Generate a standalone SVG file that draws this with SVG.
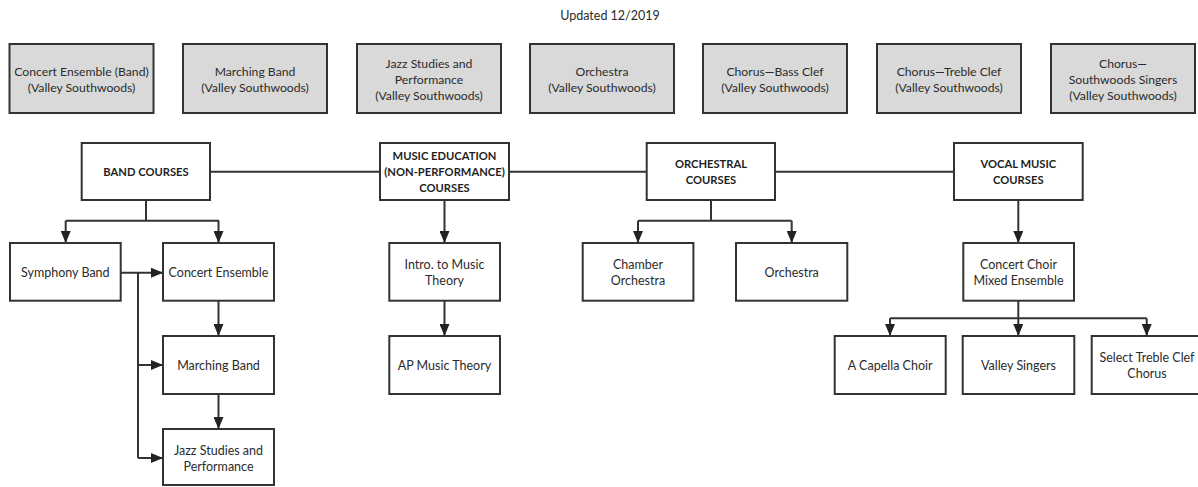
<svg xmlns="http://www.w3.org/2000/svg" width="1198" height="487" viewBox="0 0 1198 487">
<style>
  .top rect{fill:#d9d9d9;stroke:#333;stroke-width:2}
  .top text{font-size:12.2px}
  .n rect{fill:#fff;stroke:#333;stroke-width:2}
  text{font-family:Lato,"Liberation Sans",sans-serif;font-size:12.5px;fill:#2b2b2b;text-anchor:middle}
  .h text{font-weight:bold;font-size:11.2px;fill:#1e1e1e}
  #connectors path{fill:none;stroke:#333;stroke-width:2}
</style>
<defs>
  <marker id="ar" viewBox="0 0 12 10" refX="12" refY="5" markerWidth="12" markerHeight="10" markerUnits="userSpaceOnUse" orient="auto">
    <path d="M0,0 L12,5 L0,10 Z" fill="#222"/>
  </marker>
</defs>
<rect width="1198" height="487" fill="#fff"/>
<text x="610" y="20">Updated 12/2019</text>

<g id="t1" class="top"><rect x="9.5" y="44" width="144" height="69"/><text x="81.5" y="75.5">Concert Ensemble (Band)</text><text x="81.5" y="91.5">(Valley Southwoods)</text></g>
<g id="t2" class="top"><rect x="183" y="44" width="144" height="69"/><text x="255" y="75.5">Marching Band</text><text x="255" y="91.5">(Valley Southwoods)</text></g>
<g id="t3" class="top"><rect x="357" y="44" width="144" height="69"/><text x="429" y="67.5">Jazz Studies and</text><text x="429" y="83.5">Performance</text><text x="429" y="99.5">(Valley Southwoods)</text></g>
<g id="t4" class="top"><rect x="530" y="44" width="144" height="69"/><text x="602" y="75.5">Orchestra</text><text x="602" y="91.5">(Valley Southwoods)</text></g>
<g id="t5" class="top"><rect x="703" y="44" width="144" height="69"/><text x="775" y="75.5">Chorus—Bass Clef</text><text x="775" y="91.5">(Valley Southwoods)</text></g>
<g id="t6" class="top"><rect x="877" y="44" width="144" height="69"/><text x="949" y="75.5">Chorus—Treble Clef</text><text x="949" y="91.5">(Valley Southwoods)</text></g>
<g id="t7" class="top"><rect x="1051" y="44" width="144" height="69"/><text x="1123" y="67.5">Chorus—</text><text x="1123" y="83.5">Southwoods Singers</text><text x="1123" y="99.5">(Valley Southwoods)</text></g>

<g id="connectors">
  <path d="M210,171.7 H380 M509,171.7 H646.7 M775,171.7 H954"/>
  <path d="M146,200 V220.7 M65.7,220.7 H219"/>
  <path d="M65.7,220.7 V243" marker-end="url(#ar)"/>
  <path d="M218.5,220.7 V243" marker-end="url(#ar)"/>
  <path d="M120.7,272.7 H163" marker-end="url(#ar)"/>
  <path d="M138,272.7 V458 M138,365 H163" marker-end="url(#ar)"/>
  <path d="M138,458 H163" marker-end="url(#ar)"/>
  <path d="M218.5,300.7 V336" marker-end="url(#ar)"/>
  <path d="M218.5,394 V429" marker-end="url(#ar)"/>
  <path d="M444.5,200 V243" marker-end="url(#ar)"/>
  <path d="M444.5,300.7 V336" marker-end="url(#ar)"/>
  <path d="M711,200 V220.7 M638,220.7 H791.7"/>
  <path d="M638,220.7 V243" marker-end="url(#ar)"/>
  <path d="M791.7,220.7 V243" marker-end="url(#ar)"/>
  <path d="M1018.3,200 V243" marker-end="url(#ar)"/>
  <path d="M1018.3,300.7 V336" marker-end="url(#ar)"/>
  <path d="M890,318.3 H1146.7"/>
  <path d="M890,318.3 V336" marker-end="url(#ar)"/>
  <path d="M1146.7,318.3 V336" marker-end="url(#ar)"/>
</g>

<g id="band" class="n h"><rect x="81.7" y="143" width="128.3" height="57"/><text x="146" y="175.5">BAND COURSES</text></g>
<g id="musiced" class="n h"><rect x="380" y="143" width="129" height="57"/><text x="444.5" y="160">MUSIC EDUCATION</text><text x="444.5" y="176">(NON-PERFORMANCE)</text><text x="444.5" y="192">COURSES</text></g>
<g id="orch" class="n h"><rect x="646.7" y="143" width="128.3" height="57"/><text x="711" y="168">ORCHESTRAL</text><text x="711" y="184">COURSES</text></g>
<g id="vocal" class="n h"><rect x="954" y="143" width="128.7" height="57"/><text x="1018.3" y="168">VOCAL MUSIC</text><text x="1018.3" y="184">COURSES</text></g>

<g id="symphony" class="n"><rect x="10" y="243" width="110.7" height="57.7"/><text x="65.3" y="276.5">Symphony Band</text></g>
<g id="concert" class="n"><rect x="163" y="243" width="111" height="57.7"/><text x="218.5" y="276.5">Concert Ensemble</text></g>
<g id="marching" class="n"><rect x="163" y="336" width="111" height="58"/><text x="218.5" y="369.5">Marching Band</text></g>
<g id="jazz" class="n"><rect x="163" y="429" width="111" height="56"/><text x="218.5" y="454.5">Jazz Studies and</text><text x="218.5" y="470.5">Performance</text></g>
<g id="intro" class="n"><rect x="389.3" y="243" width="110.7" height="57.7"/><text x="444.5" y="269">Intro. to Music</text><text x="444.5" y="285">Theory</text></g>
<g id="ap" class="n"><rect x="389.3" y="336" width="110.7" height="58"/><text x="444.5" y="369.5">AP Music Theory</text></g>
<g id="chamber" class="n"><rect x="582.7" y="243" width="110.7" height="57.7"/><text x="638" y="269">Chamber</text><text x="638" y="285">Orchestra</text></g>
<g id="orchestra" class="n"><rect x="736" y="243" width="111.3" height="57.7"/><text x="791.7" y="276.5">Orchestra</text></g>
<g id="choir" class="n"><rect x="963.3" y="243" width="110.7" height="57.7"/><text x="1018.5" y="269">Concert Choir</text><text x="1018.5" y="285">Mixed Ensemble</text></g>
<g id="acapella" class="n"><rect x="834.7" y="336" width="111" height="58"/><text x="890.2" y="369.5">A Capella Choir</text></g>
<g id="valley" class="n"><rect x="962.7" y="336" width="111.6" height="58"/><text x="1018.5" y="369.5">Valley Singers</text></g>
<g id="treble" class="n"><rect x="1091.7" y="336" width="111" height="58"/><text x="1147" y="361.5">Select Treble Clef</text><text x="1147" y="377.5">Chorus</text></g>
</svg>
